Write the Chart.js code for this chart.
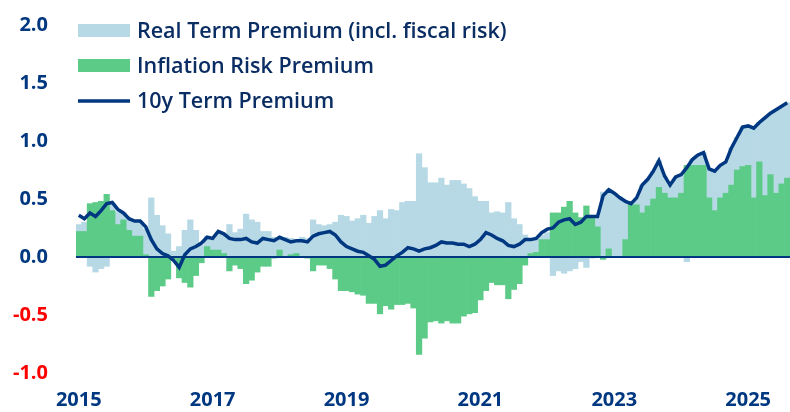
<!DOCTYPE html>
<html>
<head>
<meta charset="utf-8">
<script src="https://cdn.jsdelivr.net/npm/chart.js@4.4.1/dist/chart.umd.min.js"></script>
<style>
  html, body { margin: 0; padding: 0; background: #fff; }
  #wrap { width: 790px; height: 412px; }
</style>
</head>
<body>
<div id="wrap"><canvas id="chart" width="790" height="412"></canvas></div>
<script>
// monthly data, Jan 2015 .. Aug 2025
var firstYear = 2015;
var tickYears = ['2015', '2017', '2019', '2021', '2023', '2025'];
var seriesNames = ['Real Term Premium (incl. fiscal risk)', 'Inflation Risk Premium', '10y Term Premium'];

var inflationRisk = [
  0.22, 0.22, 0.46, 0.47, 0.48, 0.54, 0.40, 0.28, 0.32, 0.23, 0.18, 0.18,
  0.02, -0.34, -0.29, -0.25, -0.19, -0.02, -0.18, -0.22, -0.26, -0.16, -0.05, 0.09,
  0.06, 0.06, 0.03, -0.12, -0.07, -0.10, -0.23, -0.20, -0.13, -0.08, -0.08, -0.01,
  0.06, 0.00, 0.02, 0.03, 0.00, -0.01, -0.12, -0.07, -0.07, -0.10, -0.19, -0.29,
  -0.29, -0.30, -0.32, -0.33, -0.40, -0.40, -0.49, -0.42, -0.45, -0.41, -0.41, -0.40,
  -0.44, -0.84, -0.70, -0.56, -0.55, -0.57, -0.55, -0.57, -0.57, -0.51, -0.49, -0.48,
  -0.37, -0.29, -0.22, -0.24, -0.24, -0.36, -0.28, -0.23, -0.07, 0.03, 0.04, 0.15,
  0.15, 0.38, 0.38, 0.43, 0.48, 0.38, 0.34, 0.44, 0.36, 0.26, -0.02, 0.07,
  0.00, 0.00, 0.15, 0.45, 0.45, 0.38, 0.44, 0.50, 0.60, 0.55, 0.51, 0.51,
  0.55, 0.79, 0.79, 0.79, 0.79, 0.51, 0.40, 0.51, 0.55, 0.62, 0.75, 0.78,
  0.79, 0.51, 0.82, 0.53, 0.71, 0.55, 0.63, 0.68
];

var realTerm = [
  0.06, 0.08, -0.08, -0.13, -0.10, -0.08, 0.06, 0.11, 0.06, 0.09, 0.13, 0.13,
  0.22, 0.51, 0.36, 0.27, 0.20, 0.05, 0.09, 0.23, 0.32, 0.23, 0.10, 0.09,
  0.10, 0.14, 0.17, 0.28, 0.21, 0.24, 0.37, 0.32, 0.30, 0.22, 0.22, 0.17,
  0.09, 0.17, 0.14, 0.12, 0.17, 0.16, 0.32, 0.28, 0.27, 0.28, 0.30, 0.36,
  0.35, 0.31, 0.33, 0.36, 0.29, 0.35, 0.40, 0.33, 0.41, 0.40, 0.47, 0.48,
  0.48, 0.89, 0.77, 0.64, 0.64, 0.68, 0.62, 0.66, 0.66, 0.63, 0.59, 0.52,
  0.48, 0.48, 0.38, 0.39, 0.38, 0.47, 0.33, 0.28, 0.19, 0.13, 0.12, 0.04,
  0.06, -0.16, -0.12, -0.14, -0.12, -0.10, -0.04, -0.09, -0.01, 0.09, 0.56, 0.51,
  0.55, 0.52, 0.32, 0.02, 0.06, 0.24, 0.23, 0.24, 0.23, 0.15, 0.11, 0.17,
  0.15, -0.04, 0.05, 0.09, 0.11, 0.25, 0.34, 0.28, 0.27, 0.32, 0.28, 0.34,
  0.34, 0.60, 0.34, 0.67, 0.53, 0.72, 0.67, 0.65
];

var termPremium = [
  0.36, 0.33, 0.38, 0.35, 0.40, 0.46, 0.47, 0.41, 0.38, 0.33, 0.31, 0.31,
  0.26, 0.15, 0.07, 0.03, 0.01, -0.03, -0.09, 0.02, 0.07, 0.09, 0.12, 0.17,
  0.16, 0.22, 0.20, 0.16, 0.15, 0.15, 0.16, 0.13, 0.12, 0.16, 0.15, 0.14,
  0.17, 0.15, 0.13, 0.14, 0.14, 0.13, 0.18, 0.20, 0.21, 0.22, 0.19, 0.13,
  0.09, 0.07, 0.05, 0.04, 0.01, -0.02, -0.08, -0.07, -0.03, 0.01, 0.04, 0.08,
  0.07, 0.05, 0.07, 0.08, 0.10, 0.13, 0.12, 0.12, 0.11, 0.11, 0.09, 0.11,
  0.15, 0.21, 0.19, 0.16, 0.14, 0.10, 0.09, 0.11, 0.15, 0.15, 0.16, 0.21,
  0.24, 0.25, 0.30, 0.32, 0.33, 0.28, 0.30, 0.35, 0.35, 0.35, 0.53, 0.58,
  0.55, 0.51, 0.48, 0.46, 0.51, 0.62, 0.67, 0.74, 0.83, 0.70, 0.62, 0.69,
  0.71, 0.77, 0.84, 0.88, 0.90, 0.76, 0.74, 0.79, 0.82, 0.94, 1.03, 1.12,
  1.13, 1.11, 1.16, 1.20, 1.24, 1.27, 1.30, 1.33
];

var navy = '#003781';
var lightBlue = '#b6d9e5';
var green = '#5dcb88';

var months = [];
for (var i = 0; i < termPremium.length; i++) {
  var m = (i % 12) + 1;
  months.push((firstYear + Math.floor(i / 12)) + '-' + (m < 10 ? '0' + m : m));
}

// zero line sits above the bars but below the term premium line
var zeroLine = {
  id: 'zeroLine',
  beforeDatasetDraw: function (chart, args) {
    if (args.index !== 2) return;
    var ctx = chart.ctx, a = chart.chartArea;
    var y = Math.round(chart.scales.y.getPixelForValue(0));
    ctx.save();
    ctx.strokeStyle = navy;
    ctx.lineWidth = 2;
    ctx.beginPath();
    ctx.moveTo(a.left, y);
    ctx.lineTo(a.right, y);
    ctx.stroke();
    ctx.restore();
  }
};

var boxLegend = {
  id: 'boxLegend',
  afterDraw: function (chart) {
    var ctx = chart.ctx;
    var x = 78, w = 52;
    var rows = [
      { y: 31, kind: 'box', color: lightBlue, text: seriesNames[0] },
      { y: 66, kind: 'box', color: green, text: seriesNames[1] },
      { y: 101, kind: 'line', color: navy, text: seriesNames[2] }
    ];
    ctx.save();
    rows.forEach(function (r) {
      if (r.kind === 'box') {
        ctx.fillStyle = r.color;
        ctx.fillRect(x, r.y - 7, w, 13);
      } else {
        ctx.strokeStyle = r.color;
        ctx.lineWidth = 3.5;
        ctx.beginPath();
        ctx.moveTo(x, r.y);
        ctx.lineTo(x + w, r.y);
        ctx.stroke();
      }
      ctx.fillStyle = '#0a2d63';
      ctx.font = '600 21.5px "Open Sans"';
      ctx.textBaseline = 'middle';
      ctx.textAlign = 'left';
      ctx.fillText(r.text, x + w + 7, r.y + 1);
    });
    ctx.restore();
  }
};

var ctx = document.getElementById('chart').getContext('2d');
var myChart = new Chart(ctx, {
  data: {
    labels: months,
    datasets: [
      {
        type: 'bar',
        label: seriesNames[1],
        data: inflationRisk,
        backgroundColor: green,
        stack: 'tp',
        order: 1,
        barPercentage: 1,
        categoryPercentage: 1,
        borderWidth: 0
      },
      {
        type: 'bar',
        label: seriesNames[0],
        data: realTerm,
        backgroundColor: lightBlue,
        stack: 'tp',
        order: 2,
        barPercentage: 1,
        categoryPercentage: 1,
        borderWidth: 0
      },
      {
        type: 'line',
        label: seriesNames[2],
        data: termPremium,
        borderColor: navy,
        borderWidth: 3.5,
        pointRadius: 0,
        tension: 0,
        fill: false,
        stack: 'line',
        order: 0
      }
    ]
  },
  options: {
    responsive: false,
    animation: false,
    devicePixelRatio: 1,
    layout: { padding: { top: 25, right: 0, bottom: 0, left: 0 } },
    plugins: {
      legend: { display: false },
      tooltip: { enabled: false }
    },
    scales: {
      x: {
        stacked: true,
        grid: { display: false, drawTicks: false },
        border: { display: false },
        ticks: {
          autoSkip: false,
          maxRotation: 0,
          padding: 15,
          color: navy,
          font: { family: 'Open Sans', size: 20, weight: '700' },
          callback: function (value) {
            var lbl = this.getLabelForValue(value);
            var yr = lbl.slice(0, 4);
            return (lbl.slice(5) === '01' && tickYears.indexOf(yr) >= 0) ? yr : '';
          }
        },
        afterFit: function (s) {
          s.height = 39;
          s.paddingLeft = 0;
          s.paddingRight = 0;
        }
      },
      y: {
        stacked: true,
        min: -1,
        max: 2,
        grid: { display: false, drawTicks: false },
        border: { display: false },
        ticks: {
          stepSize: 0.5,
          padding: 28,
          color: function (c) { return c.tick.value < 0 ? '#ff0000' : navy; },
          font: { family: 'Open Sans', size: 20, weight: '700' },
          callback: function (v) { return v.toFixed(1); }
        },
        afterFit: function (s) {
          s.width = 76;
          s.paddingTop = 0;
          s.paddingBottom = 0;
        }
      }
    }
  },
  plugins: [zeroLine, boxLegend]
});
</script>
</body>
</html>
